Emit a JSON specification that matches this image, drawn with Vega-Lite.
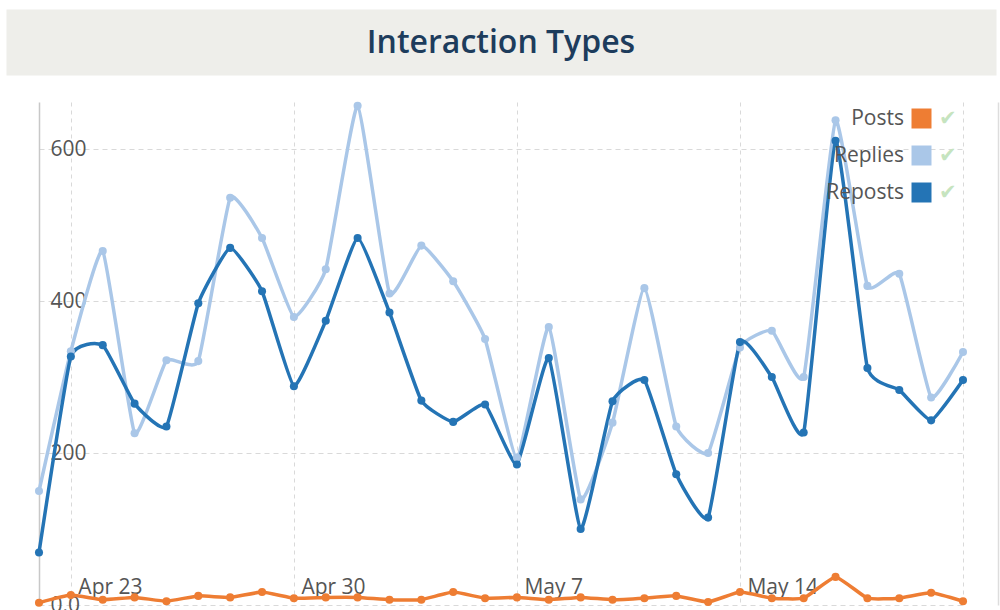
{
  "$schema": "https://vega.github.io/schema/vega-lite/v6.json",
  "width": 924,
  "height": 503,
  "autosize": {"type": "none"},
  "padding": {"left": 39, "top": 102, "right": 37, "bottom": 5},
  "background": "white",
  "title": {
    "text": "Interaction Types",
    "font": "Open Sans",
    "fontSize": 32,
    "fontWeight": 600,
    "color": "#1d3c5c",
    "anchor": "middle",
    "frame": "group",
    "baseline": "middle",
    "offset": -33
  },
  "data": {
    "values": [
      {"date": "2024-04-22", "Posts": 3, "Replies": 150, "Reposts": 69},
      {"date": "2024-04-23", "Posts": 13, "Replies": 334, "Reposts": 327},
      {"date": "2024-04-24", "Posts": 7, "Replies": 466, "Reposts": 342},
      {"date": "2024-04-25", "Posts": 10, "Replies": 226, "Reposts": 265},
      {"date": "2024-04-26", "Posts": 5, "Replies": 322, "Reposts": 235},
      {"date": "2024-04-27", "Posts": 12, "Replies": 321, "Reposts": 397},
      {"date": "2024-04-28", "Posts": 10, "Replies": 536, "Reposts": 470},
      {"date": "2024-04-29", "Posts": 17, "Replies": 483, "Reposts": 413},
      {"date": "2024-04-30", "Posts": 9, "Replies": 379, "Reposts": 288},
      {"date": "2024-05-01", "Posts": 10, "Replies": 442, "Reposts": 374},
      {"date": "2024-05-02", "Posts": 10, "Replies": 657, "Reposts": 483},
      {"date": "2024-05-03", "Posts": 7, "Replies": 410, "Reposts": 385},
      {"date": "2024-05-04", "Posts": 7, "Replies": 473, "Reposts": 269},
      {"date": "2024-05-05", "Posts": 17, "Replies": 426, "Reposts": 241},
      {"date": "2024-05-06", "Posts": 9, "Replies": 350, "Reposts": 264},
      {"date": "2024-05-07", "Posts": 10, "Replies": 194, "Reposts": 185},
      {"date": "2024-05-08", "Posts": 7, "Replies": 366, "Reposts": 325},
      {"date": "2024-05-09", "Posts": 10, "Replies": 139, "Reposts": 100},
      {"date": "2024-05-10", "Posts": 7, "Replies": 240, "Reposts": 268},
      {"date": "2024-05-11", "Posts": 9, "Replies": 417, "Reposts": 296},
      {"date": "2024-05-12", "Posts": 12, "Replies": 235, "Reposts": 172},
      {"date": "2024-05-13", "Posts": 4, "Replies": 200, "Reposts": 115},
      {"date": "2024-05-14", "Posts": 17, "Replies": 339, "Reposts": 346},
      {"date": "2024-05-15", "Posts": 9, "Replies": 361, "Reposts": 300},
      {"date": "2024-05-16", "Posts": 9, "Replies": 300, "Reposts": 227},
      {"date": "2024-05-17", "Posts": 37, "Replies": 638, "Reposts": 611},
      {"date": "2024-05-18", "Posts": 9, "Replies": 420, "Reposts": 312},
      {"date": "2024-05-19", "Posts": 9, "Replies": 436, "Reposts": 283},
      {"date": "2024-05-20", "Posts": 16, "Replies": 273, "Reposts": 243},
      {"date": "2024-05-21", "Posts": 5, "Replies": 333, "Reposts": 296}
    ]
  },
  "transform": [{"fold": ["Posts", "Replies", "Reposts"], "as": ["series", "value"]}],
  "layer": [
    {
      "mark": {"type": "line", "interpolate": "cardinal", "tension": 0.6, "strokeWidth": 3.5},
      "encoding": {
        "x": {
          "field": "date",
          "type": "temporal",
          "scale": {"type": "utc", "domain": [{"year": 2024, "month": 4, "date": 22, "utc": true}, {"year": 2024, "month": 5, "date": 21, "utc": true}]},
          "axis": {
            "orient": "bottom",
            "values": [
              {"year": 2024, "month": 4, "date": 23, "utc": true},
              {"year": 2024, "month": 4, "date": 30, "utc": true},
              {"year": 2024, "month": 5, "date": 7, "utc": true},
              {"year": 2024, "month": 5, "date": 14, "utc": true},
              {"year": 2024, "month": 5, "date": 21, "utc": true}
            ],
            "format": "%b %-d",
            "labelExpr": "datum.label === 'May 21' ? '' : datum.label",
            "domain": false,
            "ticks": false,
            "grid": true,
            "gridDash": [4, 4],
            "gridColor": "#d9d9d9",
            "gridWidth": 1,
            "labelAlign": "left",
            "labelBaseline": "middle",
            "labelPadding": -18,
            "labelOffset": 7,
            "labelFont": "Open Sans",
            "labelFontSize": 21,
            "labelColor": "#555555",
            "labelFlush": false,
            "labelOverlap": false,
            "title": null
          }
        },
        "y": {
          "field": "value",
          "type": "quantitative",
          "scale": {"domain": [0, 662], "nice": false},
          "axis": {
            "values": [0, 200, 400, 600],
            "labelExpr": "datum.value === 0 ? '0.0' : datum.label",
            "domain": true,
            "domainColor": "#c8c8c8",
            "domainWidth": 1.5,
            "ticks": false,
            "grid": true,
            "gridDash": [5, 4],
            "gridColor": "#d9d9d9",
            "gridWidth": 1,
            "labelAlign": "left",
            "labelBaseline": "middle",
            "labelPadding": -11,
            "labelFont": "Open Sans",
            "labelFontSize": 21,
            "labelColor": "#555555",
            "labelFlush": false,
            "labelOverlap": false,
            "title": null
          }
        },
        "color": {
          "field": "series",
          "type": "nominal",
          "scale": {"range": ["#ee7d33", "#aac7e8", "#2474b5"]}
        }
      }
    },
    {
      "mark": {"type": "point", "filled": true, "size": 65, "opacity": 1},
      "encoding": {
        "x": {
          "field": "date",
          "type": "temporal",
          "scale": {"type": "utc", "domain": [{"year": 2024, "month": 4, "date": 22, "utc": true}, {"year": 2024, "month": 5, "date": 21, "utc": true}]},
          "axis": {
            "orient": "top",
            "offset": 60,
            "domain": true,
            "domainColor": "#eeeeea",
            "domainWidth": 66,
            "domainCap": "square",
            "labels": false,
            "ticks": false,
            "grid": false,
            "title": null
          }
        },
        "y": {
          "field": "value",
          "type": "quantitative",
          "scale": {"domain": [0, 662], "nice": false},
          "axis": {
            "orient": "right",
            "offset": 35,
            "domain": true,
            "domainColor": "#dddddd",
            "domainWidth": 1.5,
            "labels": false,
            "ticks": false,
            "grid": false,
            "title": null
          }
        },
        "color": {
          "field": "series",
          "type": "nominal",
          "scale": {"range": ["#ee7d33", "#aac7e8", "#2474b5"]},
          "legend": {
            "orient": "none",
            "legendX": 872,
            "legendY": 6,
            "padding": 0,
            "title": null,
            "symbolType": "square",
            "symbolSize": 400,
            "symbolStrokeWidth": 0,
            "labelAlign": "right",
            "labelOffset": -28,
            "labelFont": "Open Sans",
            "labelFontSize": 21,
            "labelColor": "#555555",
            "rowPadding": 15
          }
        },
        "shape": {
          "field": "series",
          "type": "nominal",
          "scale": {"domain": ["Posts", "Replies", "Reposts"], "range": ["circle", "circle", "circle"]},
          "legend": {
            "orient": "top-right",
            "offset": 3,
            "padding": 3,
            "title": null,
            "symbolOpacity": 0,
            "symbolSize": 1,
            "symbolStrokeWidth": 0,
            "labelExpr": "'✔'",
            "labelFont": "DejaVu Sans",
            "labelFontSize": 21,
            "labelColor": "#c6e4bf",
            "labelOffset": 4,
            "rowPadding": 15
          }
        }
      }
    }
  ],
  "resolve": {"axis": {"x": "independent", "y": "independent"}},
  "config": {"view": {"stroke": null}}
}
